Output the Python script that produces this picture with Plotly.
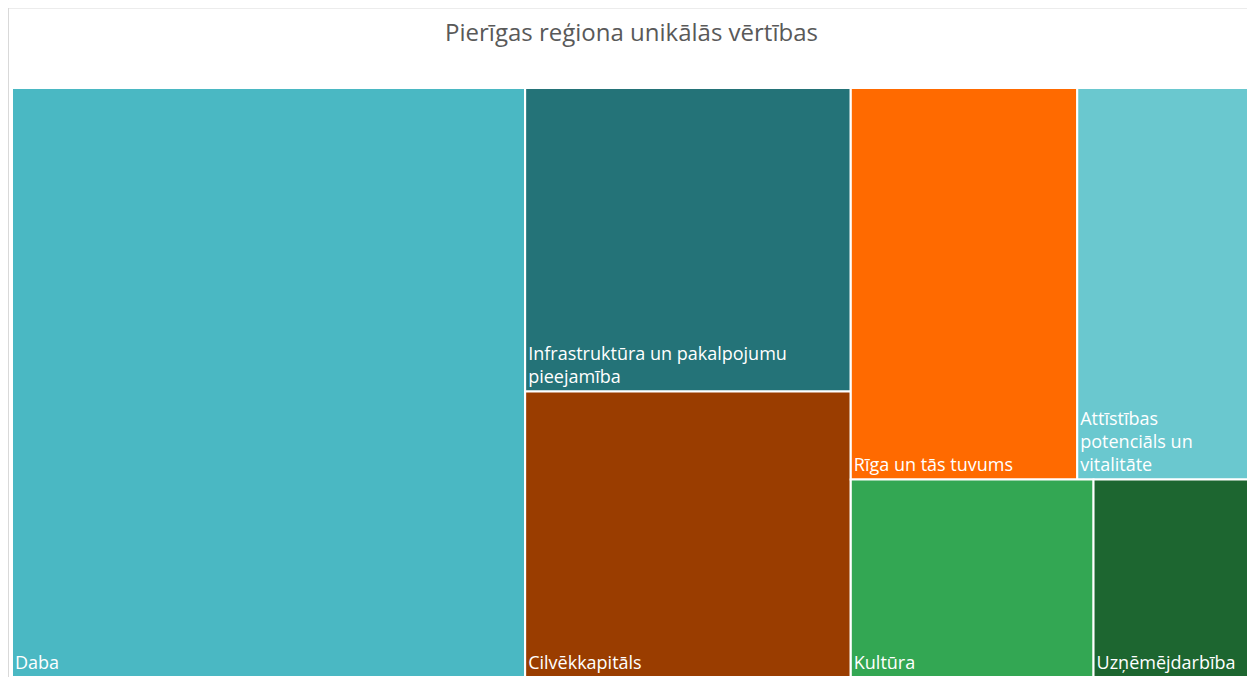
import plotly.graph_objects as go

# leaf categories and their values (read from tile areas)
categories = ["Daba", "Infrastruktūra un pakalpojumu pieejamība", "Cilvēkkapitāls",
              "Rīga un tās tuvums", "Attīstības potenciāls un vitalitāte",
              "Kultūra", "Uzņēmējdarbība"]
display_labels = ["Daba", "Infrastruktūra un pakalpojumu<br>pieejamība", "Cilvēkkapitāls",
                  "Rīga un tās tuvums", "Attīstības<br>potenciāls un<br>vitalitāte",
                  "Kultūra", "Uzņēmējdarbība"]
values = [41.6, 13.6, 12.8, 12.2, 9.2, 6.6, 4.2]
colors = ["#4AB8C3", "#247378", "#9A3D00", "#FF6A00", "#6AC8CF", "#33A753", "#1D6630"]

# hidden grouping so the tiles fall as in the original layout
group_of = ["", "g_b", "g_b", "g_c1", "g_c1", "g_c2", "g_c2"]
groups = ["g_b", "g_c", "g_c1", "g_c2"]
group_parent = ["", "", "g_c", "g_c"]


def group_total(g):
    kids = [values[i] for i in range(len(categories)) if group_of[i] == g]
    kids += [group_total(groups[j]) for j in range(len(groups)) if group_parent[j] == g]
    return sum(kids)


ids = categories + groups
labels = display_labels + ["" for g in groups]
parents = group_of + group_parent
vals = values + [group_total(g) for g in groups]
cols = colors + ["#FFFFFF" for g in groups]
templates = ["%{label}" for c in categories] + [" " for g in groups]

fig = go.Figure(go.Treemap(
    ids=ids,
    labels=labels,
    parents=parents,
    values=vals,
    branchvalues="total",
    sort=False,
    texttemplate=templates,
    textposition="bottom left",
    textfont=dict(family="Open Sans", size=18, color="white"),
    marker=dict(colors=cols, line=dict(color="white", width=2),
                pad=dict(t=0, l=0, r=0, b=0)),
    tiling=dict(packing="squarify", squarifyratio=1, pad=0),
    pathbar=dict(visible=False),
    hoverinfo="label+value",
))

# light frame around the chart area
fig.add_shape(type="rect", xref="paper", yref="paper",
              x0=-3.5 / 1236, x1=1.2, y0=-0.2, y1=1 + 80 / 589,
              line=dict(color="#D9D9D9", width=1), fillcolor="rgba(0,0,0,0)", layer="below")

# page body has an 8px margin, so the figure is 8px smaller each way
fig.update_layout(
    width=1247, height=669,
    title=dict(text="Pierīgas reģiona unikālās vērtības", x=0.5, xanchor="center",
               y=1 - 25 / 669, yanchor="middle",
               font=dict(family="Open Sans", size=24, color="#595959")),
    margin=dict(l=4, r=7, t=80, b=0),
    paper_bgcolor="white",
    plot_bgcolor="white",
)

fig.write_html("out.html")
